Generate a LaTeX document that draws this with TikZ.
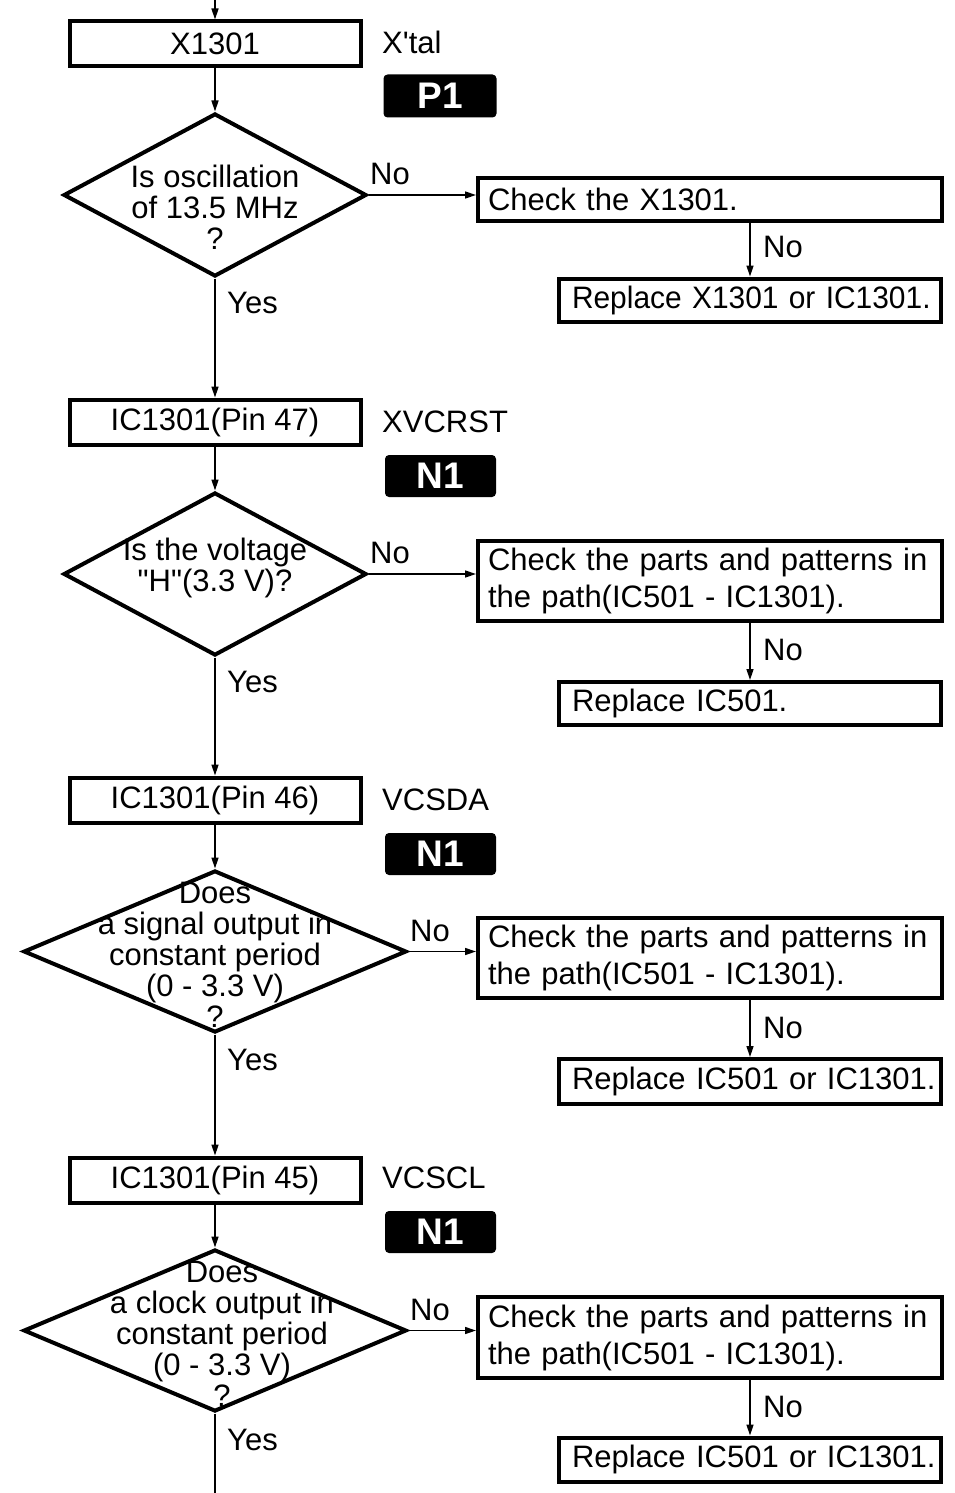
\documentclass[tikz,border=0pt]{standalone}
\usepackage{fontspec}
\setmainfont{Liberation Sans}
\newfontfamily\narrowf[FakeStretch=0.965]{Liberation Sans}
\usetikzlibrary{shapes.geometric,arrows.meta}
\newcommand\fsz{\fontsize{31}{31}\selectfont}
\begin{document}
\begin{tikzpicture}[x=1pt,y=-1pt,
  every node/.style={font=\fsz, text=black},
  box/.style={draw, line width=4pt, rectangle, minimum width=291pt, minimum height=45pt, inner sep=0pt},
  chk/.style={draw, line width=4pt, rectangle, minimum width=464pt, text width=444pt, inner xsep=10pt, inner ysep=0pt, align=left, font=\fontsize{31}{37}\selectfont},
  rep/.style={draw, line width=4pt, rectangle, minimum width=382pt, text width=356pt, inner xsep=13pt, inner ysep=0pt, align=left, minimum height=43pt},
  dia/.style={draw, diamond, line width=4pt, inner sep=0pt},
  dtxt/.style={align=center, inner sep=0pt, font=\fontsize{31}{31}\selectfont},
  badge/.style={fill=black, rounded corners=4pt, text=white, font=\fontsize{37}{37}\selectfont\bfseries, minimum width=111pt, minimum height=42pt, inner sep=0pt},
  side/.style={anchor=west, inner sep=0pt},
  lab/.style={anchor=west, inner sep=0pt},
  arr/.style={line width=1.5pt, -{Triangle[length=11pt,width=7pt]}},
  ln/.style={line width=1.5pt}
]
\useasboundingbox (0,0) rectangle (954,1493);
\fill[white] (0,0) rectangle (954,1493);

% ---- block 1
\coordinate (top) at (215,0);
\node[box] (b1) at (215,44) {X1301};
\node[side] (s1) at (382,42) {X\textquotesingle tal};
\node[badge, minimum width=113pt, minimum height=43pt] (p1) at (440,96) {P1};
\node[dia, minimum width=303pt, minimum height=163pt] (d1) at (215,195) {};
\node[dtxt] (t1) at (215,207) {Is oscillation\\of 13.5 MHz\\?};
\node[chk, minimum height=43pt] (c1) at (710,199.5) {\mbox{Check the X1301.}};
\node[rep] (r1) at (750,300) {\mbox{\narrowf Replace X1301 or IC1301.}};
\node[lab] (n1a) at (370,174) {No};
\node[lab] (y1) at (227,303) {Yes};
\node[lab] (n1b) at (763,247) {No};

% ---- block 2
\node[box] (b2) at (215,422) {IC1301(Pin 47)};
\node[side] (s2) at (382,422) {XVCRST};
\node[badge] (p2) at (440.5,476) {N1};
\node[dia, minimum width=303pt, minimum height=163pt] (d2) at (215,574) {};
\node[dtxt] (t2) at (215,568) {Is the voltage\\\textquotedbl H\textquotedbl(3.3 V)?};
\node[chk, minimum height=80pt] (c2) at (710,581) {\mbox{Check the parts and patterns in}\\\mbox{the path(IC501 - IC1301).}};
\node[rep] (r2) at (750,703.5) {\mbox{Replace IC501.}};
\node[lab] (n2a) at (370,553) {No};
\node[lab] (y2) at (227,682) {Yes};
\node[lab] (n2b) at (763,650) {No};

% ---- block 3
\node[box] (b3) at (215,800) {IC1301(Pin 46)};
\node[side] (s3) at (382,800) {VCSDA};
\node[badge] (p3) at (440.5,854) {N1};
\node[dia, minimum width=383pt, minimum height=162pt] (d3) at (215,951.5) {};
\node[dtxt] (t3) at (215,955) {Does\\a signal output in\\constant period\\(0 - 3.3 V)\\?};
\node[chk, minimum height=80pt] (c3) at (710,958) {\mbox{Check the parts and patterns in}\\\mbox{the path(IC501 - IC1301).}};
\node[rep, minimum height=45pt] (r3) at (750,1081.5) {\mbox{Replace IC501 or IC1301.}};
\node[lab] (n3a) at (410,931) {No};
\node[lab] (y3) at (227,1060) {Yes};
\node[lab] (n3b) at (763,1028) {No};

% ---- block 4
\node[box] (b4) at (215,1180) {IC1301(Pin 45)};
\node[side] (s4) at (382,1178) {VCSCL};
\node[badge] (p4) at (440.5,1232) {N1};
\node[dia, minimum width=383pt, minimum height=162pt] (d4) at (215,1330.5) {};
\node[dtxt] (t4) at (222,1334) {Does\\a clock output in\\constant period\\(0 - 3.3 V)\\?};
\node[chk, minimum height=81pt] (c4) at (710,1337.5) {\mbox{Check the parts and patterns in}\\\mbox{the path(IC501 - IC1301).}};
\node[rep, minimum height=44pt] (r4) at (750,1459.5) {\mbox{Replace IC501 or IC1301.}};
\node[lab] (n4a) at (410,1310) {No};
\node[lab] (y4) at (227,1440) {Yes};
\node[lab] (n4b) at (763,1407) {No};
\coordinate (bot) at (215,1493);

% ---- connectors
\draw[arr] (top) -- (b1);
\draw[arr] (b1) -- (d1);
\draw[arr] (d1.east) -- (d1.east -| c1.west);
\draw[arr] (r1.north |- c1.south) -- (r1.north);
\draw[arr] (d1) -- (b2);
\draw[arr] (b2) -- (d2);
\draw[arr] (d2.east) -- (d2.east -| c2.west);
\draw[arr] (r2.north |- c2.south) -- (r2.north);
\draw[arr] (d2) -- (b3);
\draw[arr] (b3) -- (d3);
\draw[arr] (d3.east) -- (d3.east -| c3.west);
\draw[arr] (r3.north |- c3.south) -- (r3.north);
\draw[arr] (d3) -- (b4);
\draw[arr] (b4) -- (d4);
\draw[arr] (d4.east) -- (d4.east -| c4.west);
\draw[arr] (r4.north |- c4.south) -- (r4.north);
\draw[ln] (d4) -- (bot);
\end{tikzpicture}
\end{document}
